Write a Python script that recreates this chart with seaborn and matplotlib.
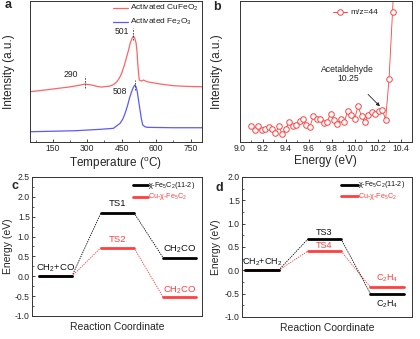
import numpy as np
import pandas as pd
import matplotlib
matplotlib.use("Agg")
import matplotlib.pyplot as plt
from matplotlib.ticker import MultipleLocator, NullLocator
import seaborn as sns

# ---- (a) TPD profiles ----
temp_cufeo2 = [50, 116, 174, 220, 247, 270, 290, 320, 345, 363, 400, 415, 429, 440, 450,
               462, 472, 480, 487, 495, 501, 507, 513, 517, 520, 524, 527, 535, 545,
               560, 618, 676, 740, 800]
int_cufeo2 = [50.3, 52.0, 53.7, 55.0, 56.0, 57.0, 58.0, 57.0, 55.5, 55.0, 56.0, 57.5, 60.3, 64.0, 68.7,
              77.0, 85.3, 92.0, 98.7, 103.5, 106.0, 104.0, 98.7, 90.0, 78.7, 68.0, 62.0, 61.0, 62.0,
              60.3, 58.0, 56.3, 55.6, 55.3]
temp_fe2o3 = [50, 150, 247, 356, 414, 443, 455, 465, 475, 484, 492, 499, 504, 508, 513,
              518, 524, 530, 536, 542, 550, 560, 618, 676, 740, 800]
int_fe2o3 = [10.3, 10.8, 11.3, 12.7, 13.7, 18.7, 23.0, 28.7, 36.0, 43.7, 49.5, 53.7, 56.0, 57.0, 55.0,
             50.3, 41.0, 32.0, 23.0, 17.0, 15.5, 14.7, 14.5, 14.3, 14.3, 14.3]

# ---- (b) photoionization efficiency, m/z = 44 ----
energy_b = [9.10, 9.13, 9.16, 9.19, 9.22, 9.25, 9.28, 9.31, 9.34, 9.37, 9.40, 9.43, 9.46, 9.49,
            9.52, 9.55, 9.58, 9.61, 9.64, 9.67, 9.70, 9.73, 9.76, 9.79, 9.82, 9.85, 9.88, 9.91,
            9.94, 9.97, 10.00, 10.03, 10.06, 10.09, 10.12, 10.15, 10.18, 10.21, 10.24, 10.27,
            10.30, 10.33, 10.36]
signal_b = [0.48, 0.35, 0.47, 0.37, 0.40, 0.44, 0.40, 0.27, 0.47, 0.23, 0.38, 0.60, 0.47, 0.50,
            0.63, 0.70, 0.50, 0.45, 0.77, 0.70, 0.70, 0.57, 0.60, 0.85, 0.65, 0.55, 0.70, 0.60,
            0.93, 0.80, 0.70, 1.07, 0.77, 0.60, 0.80, 0.90, 0.85, 0.93, 0.97, 0.67,
            1.90, 3.88, 6.00]

# ---- (c) CH2 + CO coupling ----
states_c = ["CH$_2$+CO", "TS1", "CH$_2$CO"]
e_c_fe5c2 = [0.0, 1.60, 0.47]
e_c_cu = [0.0, 0.72, -0.52]
labels_c_cu = ["", "TS2", "CH$_2$CO"]

# ---- (d) CH2 + CH2 coupling ----
states_d = ["CH$_2$+CH$_2$", "TS3", "C$_2$H$_4$"]
e_d_fe5c2 = [0.0, 0.67, -0.50]
e_d_cu = [0.0, 0.41, -0.36]
labels_d_cu = ["", "TS4", "C$_2$H$_4$"]

series_names = ["χ-Fe$_5$C$_2$(11-2)", "Cu-χ-Fe$_5$C$_2$"]

RED = "#ff4040"
TPD_RED = "#ff6464"
TPD_BLUE = "#5a5aff"

sns.set_theme(style="ticks")
plt.rcParams["font.family"] = ["Liberation Sans", "DejaVu Sans"]
plt.rcParams["mathtext.fontset"] = "custom"
plt.rcParams["mathtext.rm"] = "Liberation Sans"
plt.rcParams["mathtext.it"] = "Liberation Sans"
plt.rcParams["axes.linewidth"] = 0.7
plt.rcParams["axes.edgecolor"] = "#333333"
for ax_ in ("x", "y"):
    plt.rcParams[f"{ax_}tick.direction"] = "in"
    plt.rcParams[f"{ax_}tick.major.size"] = 2.5
    plt.rcParams[f"{ax_}tick.minor.size"] = 1.5
    plt.rcParams[f"{ax_}tick.major.width"] = 0.6
    plt.rcParams[f"{ax_}tick.minor.width"] = 0.5
    plt.rcParams[f"{ax_}tick.major.pad"] = 1.5
    plt.rcParams[f"{ax_}tick.labelsize"] = 6.2

fig = plt.figure(figsize=(4.2, 3.39), dpi=100)
ax_a = fig.add_axes([0.071, 0.581, 0.410, 0.416])
ax_b = fig.add_axes([0.571, 0.581, 0.410, 0.416])
ax_c = fig.add_axes([0.076, 0.068, 0.405, 0.410])
ax_d = fig.add_axes([0.576, 0.065, 0.405, 0.413])

# ---------- panel a ----------
df_a = pd.concat([
    pd.DataFrame({"T": temp_cufeo2, "I": int_cufeo2, "s": "Activated CuFeO$_2$"}),
    pd.DataFrame({"T": temp_fe2o3, "I": int_fe2o3, "s": "Activated Fe$_2$O$_3$"}),
])
sns.lineplot(data=df_a, x="T", y="I", hue="s", palette=[TPD_RED, TPD_BLUE],
             linewidth=0.9, ax=ax_a, legend=False, sort=False)
ax_a.set_xlim(50, 800)
ax_a.set_ylim(0, 141)
ax_a.xaxis.set_major_locator(MultipleLocator(150))
ax_a.xaxis.set_minor_locator(MultipleLocator(75))
ax_a.yaxis.set_major_locator(NullLocator())
ax_a.set_xlabel("Temperature ($^{\\rm o}$C)", fontsize=8.5)
ax_a.set_ylabel("Intensity (a.u.)", fontsize=8.5)
ax_a.xaxis.set_label_coords(0.5, -0.092)
ax_a.yaxis.set_label_coords(-0.087, 0.5)
for txt, col, y in [("Activated CuFeO$_2$", TPD_RED, 134), ("Activated Fe$_2$O$_3$", TPD_BLUE, 120)]:
    ax_a.plot([413, 478], [y, y], color=col, lw=0.9)
    ax_a.text(487, y, txt, fontsize=6.0, va="center", ha="left", color="#222222")
# peak markers
for t, y0, y1, lab, tx, ty, ha in [(290, 54, 66, "290", 262, 68, "right"),
                                   (501, 102, 114, "501", 480, 111, "right"),
                                   (508, 52, 62, "508", 474, 51, "right")]:
    ax_a.plot([t, t], [y0, y1], ls=(0, (2, 1.5)), color="#333333", lw=0.6)
    ax_a.text(tx, ty, lab, fontsize=6.2, ha=ha, va="center", color="#222222")

# ---------- panel b ----------
df_b = pd.DataFrame({"E": energy_b, "S": signal_b})
sns.lineplot(data=df_b, x="E", y="S", color=RED, linewidth=0.6, ax=ax_b, legend=False)
sns.scatterplot(data=df_b, x="E", y="S", ax=ax_b, s=16, facecolor="white",
                edgecolor=RED, linewidth=0.7, marker="o", legend=False, zorder=3)
ax_b.set_xlim(9.0, 10.5)
ax_b.set_ylim(0, 4.22)
ax_b.xaxis.set_major_locator(MultipleLocator(0.2))
ax_b.xaxis.set_minor_locator(MultipleLocator(0.1))
ax_b.xaxis.set_major_formatter(plt.FormatStrFormatter("%.1f"))
ax_b.yaxis.set_major_locator(NullLocator())
ax_b.set_xlabel("Energy (eV)", fontsize=8.5)
ax_b.set_ylabel("Intensity (a.u.)", fontsize=8.5)
ax_b.xaxis.set_label_coords(0.5, -0.092)
ax_b.yaxis.set_label_coords(-0.099, 0.5)
ax_b.plot([9.81, 9.93], [3.88, 3.88], color=RED, lw=0.7)
ax_b.plot([9.87], [3.88], marker="o", ms=4, mfc="white", mec=RED, mew=0.7)
ax_b.text(9.96, 3.88, "m/z=44", fontsize=6.0, va="center", ha="left", color="#222222")
ax_b.annotate("Acetaldehyde\n10.25", xy=(10.22, 1.07), xytext=(9.94, 2.04),
              fontsize=6.2, ha="center", va="center", color="#222222", linespacing=1.1,
              arrowprops=dict(arrowstyle="-|>", color="#222222", lw=0.6,
                              mutation_scale=5, shrinkA=8, shrinkB=0))


def draw_profile(ax, fe_vals, cu_vals, top_labels, cu_labels, label_offsets, fs):
    centers = [1.0, 3.0, 5.0]
    half = 0.53
    rows = []
    for name, vals in [(series_names[0], fe_vals), (series_names[1], cu_vals)]:
        for c, e in zip(centers, vals):
            rows.append({"x": c - half, "E": e, "series": name, "seg": f"{name}{c}"})
            rows.append({"x": c + half, "E": e, "series": name, "seg": f"{name}{c}"})
    df = pd.DataFrame(rows)
    # connectors between consecutive states
    for name, vals, col in [(series_names[1], cu_vals, RED), (series_names[0], fe_vals, "black")]:
        for i in range(2):
            ax.plot([centers[i] + half, centers[i + 1] - half], [vals[i], vals[i + 1]],
                    ls=(0, (1.6, 1.2)), color=col, lw=0.6)
    for name, col in [(series_names[1], RED), (series_names[0], "black")]:
        sub = df[df.series == name]
        sns.lineplot(data=sub, x="x", y="E", units="seg", estimator=None, color=col,
                     linewidth=2.0, ax=ax, legend=False)
    for (c, e, lab, off) in zip(centers, fe_vals, top_labels, label_offsets[0]):
        ax.text(c, e + off, lab, fontsize=fs, ha="center", va="center", color="#111111")
    for (c, e, lab, off) in zip(centers, cu_vals, cu_labels, label_offsets[1]):
        if lab:
            ax.text(c, e + off, lab, fontsize=fs, ha="center", va="center", color=RED)
    ax.set_ylabel("Energy (eV)", fontsize=7.5)
    ax.set_xlabel("Reaction Coordinate", fontsize=7.5)
    ax.xaxis.set_label_coords(0.5, -0.043)
    ax.xaxis.set_major_locator(NullLocator())
    ax.yaxis.set_major_locator(MultipleLocator(0.5))
    ax.yaxis.set_minor_locator(MultipleLocator(0.25))
    ax.yaxis.set_major_formatter(plt.FormatStrFormatter("%.1f"))


draw_profile(ax_c, e_c_fe5c2, e_c_cu, states_c, labels_c_cu,
             [[0.19, 0.22, 0.20], [0, 0.20, 0.16]], 6.8)
ax_c.set_xlim(0.24, 5.73)
ax_c.set_ylim(-1.0, 2.5)
ax_c.yaxis.set_label_coords(-0.11, 0.5)
ax_c.plot([3.5, 3.98], [2.29, 2.29], color="black", lw=2.0)
ax_c.plot([3.5, 3.98], [2.0, 2.0], color=RED, lw=2.0)
ax_c.text(4.0, 2.29, series_names[0], fontsize=5.2, va="center", ha="left", color="#111111")
ax_c.text(4.0, 2.0, series_names[1], fontsize=5.2, va="center", ha="left", color=RED)

draw_profile(ax_d, e_d_fe5c2, e_d_cu, states_d, labels_d_cu,
             [[0.18, 0.14, -0.22], [0, 0.12, 0.18]], 6.5)
ax_d.set_xlim(0.36, 5.8)
ax_d.set_ylim(-1.0, 2.0)
ax_d.yaxis.set_label_coords(-0.125, 0.5)
ax_d.plot([3.52, 4.06], [1.83, 1.83], color="black", lw=2.0)
ax_d.plot([3.52, 4.06], [1.59, 1.59], color=RED, lw=2.0)
ax_d.text(4.08, 1.83, series_names[0], fontsize=5.2, va="center", ha="left", color="#111111")
ax_d.text(4.08, 1.59, series_names[1], fontsize=5.2, va="center", ha="left", color=RED)

for ax in (ax_a, ax_b, ax_c, ax_d):
    for sp in ax.spines.values():
        sp.set_visible(True)

for letter, x, y in [("a", 0.012, 0.985), ("b", 0.507, 0.980), ("c", 0.028, 0.450), ("d", 0.512, 0.445)]:
    fig.text(x, y, letter, fontsize=9, fontweight="bold", ha="left", va="center")

fig.savefig("out.png", dpi=100)
